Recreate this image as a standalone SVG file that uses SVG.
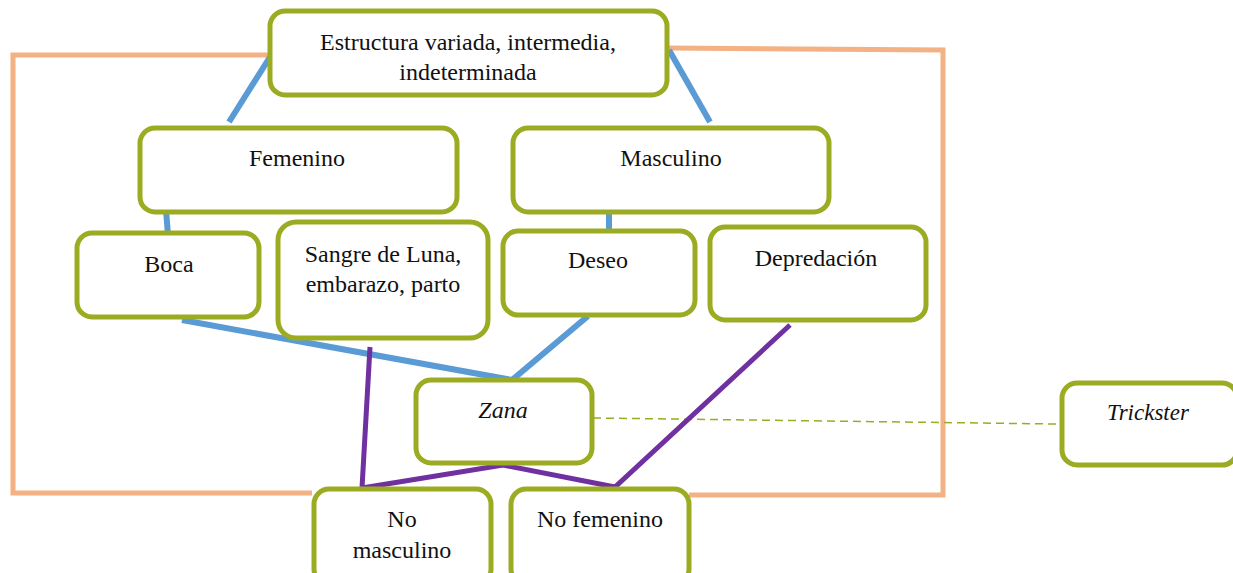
<svg xmlns="http://www.w3.org/2000/svg" width="1233" height="573" viewBox="0 0 1233 573" font-family="'Liberation Serif', 'DejaVu Serif', serif">
<style>
.box{fill:#fff;stroke:#9bab22;stroke-width:5}
.t{font-family:'Liberation Serif','DejaVu Serif',serif;font-size:24px;fill:#111;text-anchor:middle}
.i{font-style:italic}
.org{fill:none;stroke:#f4b183;stroke-width:5}
.blu{fill:none;stroke:#5b9bd5;stroke-width:6}
.pur{fill:none;stroke:#7030a0;stroke-width:5;stroke-linejoin:miter}
.dash{fill:none;stroke:#9bab22;stroke-width:1.5;stroke-dasharray:8 5}
</style>
<rect width="1233" height="573" fill="#fff"/>
<g id="connectors">
<polyline class="org" points="270,55 13,55 13,493 312,493"/>
<polyline class="org" points="668,48 943,50 943,495 689,495"/>
<line class="dash" x1="593" y1="418" x2="1057" y2="424"/>
<line class="blu" x1="270" y1="57" x2="229" y2="122"/>
<line class="blu" x1="669" y1="50" x2="710" y2="122"/>
<line class="blu" x1="166" y1="210" x2="168" y2="235"/>
<line class="blu" x1="609" y1="210" x2="609" y2="232"/>
<line class="blu" x1="182" y1="320" x2="512" y2="380"/>
<line class="blu" x1="588" y1="316" x2="512" y2="380"/>
<polyline class="pur" points="370,347 362,488 503,465 615,487 790,325"/>
</g>
<g id="n-estructura">
<rect class="box" x="270" y="11" width="397" height="84" rx="15"/>
<text class="t" x="468" y="50">Estructura variada, intermedia,</text>
<text class="t" x="468" y="80">indeterminada</text>
</g>
<g id="n-femenino">
<rect class="box" x="140" y="128" width="317" height="84" rx="15"/>
<text class="t" x="297" y="166">Femenino</text>
</g>
<g id="n-masculino">
<rect class="box" x="513" y="128" width="316" height="84" rx="15"/>
<text class="t" x="671" y="166">Masculino</text>
</g>
<g id="n-boca">
<rect class="box" x="77" y="233" width="182" height="84" rx="15"/>
<text class="t" x="169" y="272">Boca</text>
</g>
<g id="n-sangre">
<rect class="box" x="278" y="222" width="210" height="116" rx="18"/>
<text class="t" x="383" y="262">Sangre de Luna,</text>
<text class="t" x="383" y="292">embarazo, parto</text>
</g>
<g id="n-deseo">
<rect class="box" x="503" y="231" width="192" height="84" rx="15"/>
<text class="t" x="598" y="268">Deseo</text>
</g>
<g id="n-depredacion">
<rect class="box" x="710" y="227" width="216" height="93" rx="15"/>
<text class="t" x="816" y="266">Depredación</text>
</g>
<g id="n-zana">
<rect class="box" x="416" y="380" width="176" height="83" rx="15"/>
<text class="t i" x="503" y="418">Zana</text>
</g>
<g id="n-trickster">
<rect class="box" x="1062" y="383" width="175" height="82" rx="15"/>
<text class="t i" x="1148" y="420" style="font-size:23px">Trickster</text>
</g>
<g id="n-nomasculino">
<rect class="box" x="314" y="489" width="177" height="95" rx="15"/>
<text class="t" x="402" y="527">No</text>
<text class="t" x="402" y="558">masculino</text>
</g>
<g id="n-nofemenino">
<rect class="box" x="511" y="489" width="178" height="95" rx="15"/>
<text class="t" x="600" y="527">No femenino</text>
</g>
</svg>
